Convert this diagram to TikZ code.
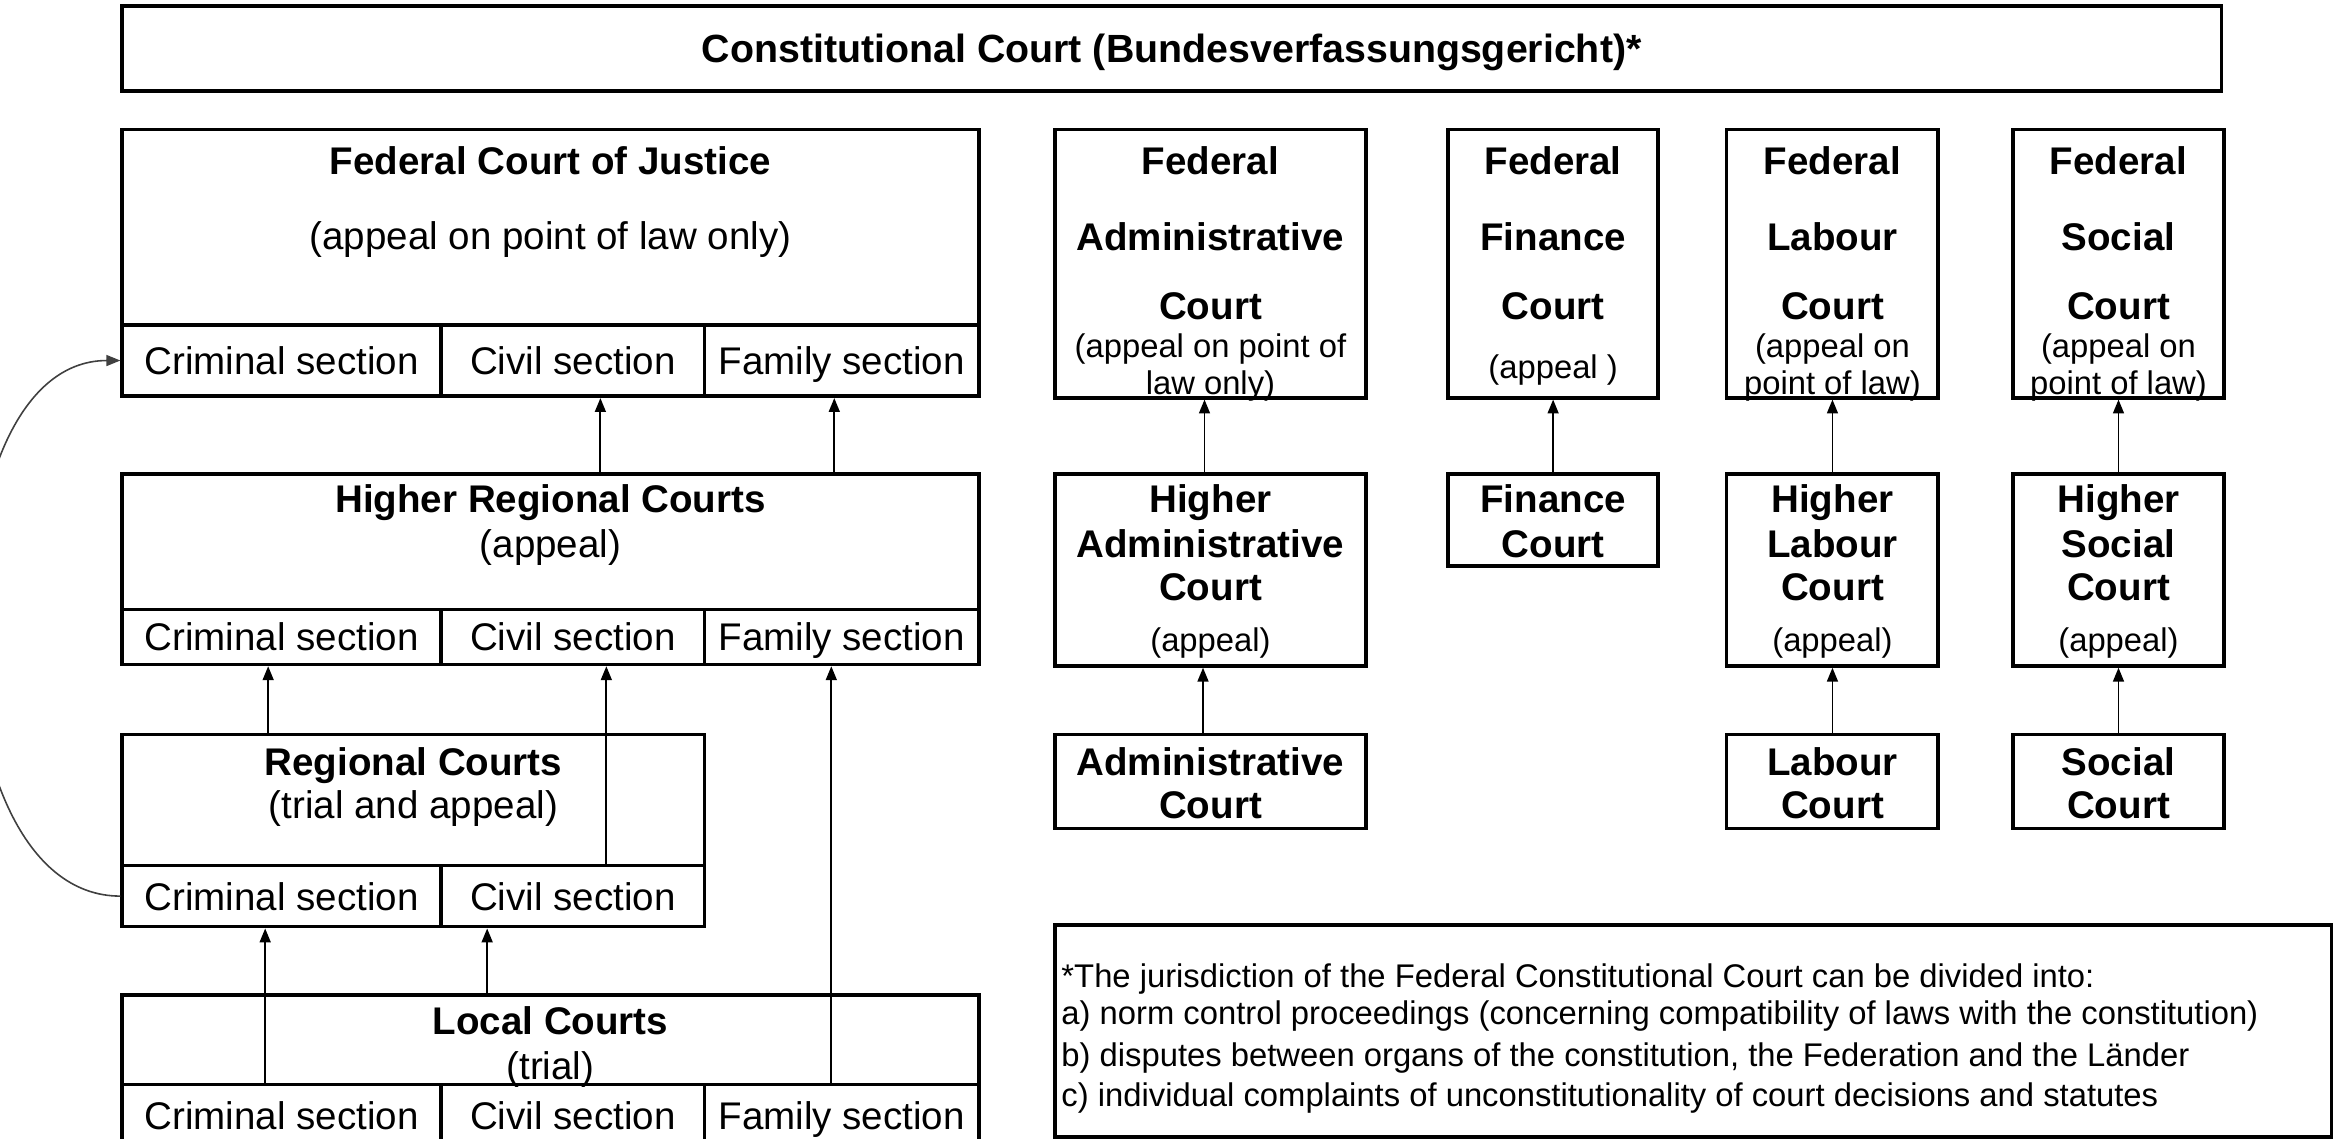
\documentclass[tikz,border=0pt]{standalone}
\usepackage{fontspec}
\setmainfont{Liberation Sans}
\usetikzlibrary{arrows.meta,calc}

\tikzset{every picture/.style={line width=0.75pt}}
\tikzset{
  box/.style 2 args={draw, line width=1.8pt, inner sep=0pt, minimum width=#1*0.75pt, minimum height=#2*0.75pt},
  hdtext/.style={font=\fontsize{19.4}{23}\selectfont\bfseries, inner sep=0pt, text height=14pt, text depth=0pt},
  bodytext/.style={font=\fontsize{19.4}{23}\selectfont, inner sep=0pt, text height=14pt, text depth=0pt},
  smalltext/.style={font=\fontsize{16.5}{20}\selectfont, inner sep=0pt, text height=12pt, text depth=0pt},
  uparrow/.style={-{Triangle[length=7pt,width=5.5pt]}, line width=0.9pt},
}

\begin{document}
\begin{tikzpicture}[x=0.75pt,y=0.75pt,yscale=-1,xscale=1]
  \useasboundingbox (0,0) rectangle (1568,764.5);

  %Shape: Rectangle
  \node[box={1409}{57}, hdtext, font=\fontsize{19.8}{23}\selectfont\bfseries] (bvg) at (786.5,32.5) {Constitutional Court (Bundesverfassungsgericht)*};

  %Shape: Rectangle
  \node[box={575}{131}] (fcj) at (369.5,152.5) {};
  \node[box={214}{48}, bodytext] (fcjCrim) at (189,242) {Criminal section};
  \node[box={177}{48}, bodytext] (fcjCiv) at (384.5,242) {Civil section};
  \node[box={184}{48}, bodytext] (fcjFam) at (565,242) {Family section};
  % Text Node
  \node[hdtext] (fcjName) at (369.5,108) {Federal Court of Justice};
  \node[bodytext] (fcjNote) at (369.5,158) {(appeal on point of law only)};

  %Shape: Rectangle
  \node[box={575}{91}] (hrc) at (369.5,363.5) {};
  \node[box={214}{37}, bodytext] (hrcCrim) at (189,427.5) {Criminal section};
  \node[box={177}{37}, bodytext] (hrcCiv) at (384.5,427.5) {Civil section};
  \node[box={184}{37}, bodytext] (hrcFam) at (565,427.5) {Family section};
  % Text Node
  \node[hdtext] (hrcName) at (369.5,335) {Higher Regional Courts};
  \node[bodytext] (hrcNote) at (369.5,365) {(appeal)};

  %Shape: Rectangle
  \node[box={391}{88}] (rc) at (277.5,537) {};
  \node[box={214}{41}, bodytext] (rcCrim) at (189,601.5) {Criminal section};
  \node[box={177}{41}, bodytext] (rcCiv) at (384.5,601.5) {Civil section};
  % Text Node
  \node[hdtext] (rcName) at (277.5,511) {Regional Courts};
  \node[bodytext] (rcNote) at (277.5,540) {(trial and appeal)};

  %Shape: Rectangle
  \node[box={575}{60}] (lc) at (369.5,698) {};
  \node[box={214}{41}, bodytext] (lcCrim) at (189,748.5) {Criminal section};
  \node[box={177}{41}, bodytext] (lcCiv) at (384.5,748.5) {Civil section};
  \node[box={184}{41}, bodytext] (lcFam) at (565,748.5) {Family section};
  % Text Node
  \node[hdtext] (lcName) at (369.5,685) {Local Courts};
  \node[bodytext] (lcNote) at (369.5,715) {(trial)};

  %Shape: Rectangle
  \node[box={209}{180}] (fadm) at (812.5,177) {};
  \node[box={141}{180}] (ffin) at (1042.5,177) {};
  \node[box={142}{180}] (flab) at (1230,177) {};
  \node[box={142}{180}] (fsoc) at (1422,177) {};
  % Text Node
  \node[hdtext] (fadm1) at (812.5,108) {Federal};
  \node[hdtext] (fadm2) at (812.5,159) {Administrative};
  \node[hdtext] (fadm3) at (812.5,205) {Court};
  \node[smalltext] (fadm4) at (812.5,232) {(appeal on point of};
  \node[smalltext] (fadm5) at (812.5,257) {law only)};
  \node[hdtext] (ffin1) at (1042.5,108) {Federal};
  \node[hdtext] (ffin2) at (1042.5,159) {Finance};
  \node[hdtext] (ffin3) at (1042.5,205) {Court};
  \node[smalltext] (ffin4) at (1042.5,246) {(appeal )};
  \node[hdtext] (flab1) at (1230,108) {Federal};
  \node[hdtext] (flab2) at (1230,159) {Labour};
  \node[hdtext] (flab3) at (1230,205) {Court};
  \node[smalltext] (flab4) at (1230,232) {(appeal on};
  \node[smalltext] (flab5) at (1230,257) {point of law)};
  \node[hdtext] (fsoc1) at (1422,108) {Federal};
  \node[hdtext] (fsoc2) at (1422,159) {Social};
  \node[hdtext] (fsoc3) at (1422,205) {Court};
  \node[smalltext] (fsoc4) at (1422,232) {(appeal on};
  \node[smalltext] (fsoc5) at (1422,257) {point of law)};

  %Shape: Rectangle
  \node[box={209}{129}] (hadm) at (812.5,382.5) {};
  \node[box={141}{62}] (fin) at (1042.5,349) {};
  \node[box={142}{129}] (hlab) at (1230,382.5) {};
  \node[box={142}{129}] (hsoc) at (1422,382.5) {};
  % Text Node
  \node[hdtext] (hadm1) at (812.5,335) {Higher};
  \node[hdtext] (hadm2) at (812.5,365) {Administrative};
  \node[hdtext] (hadm3) at (812.5,394) {Court};
  \node[smalltext] (hadm4) at (812.5,429) {(appeal)};
  \node[hdtext] (fin1) at (1042.5,335) {Finance};
  \node[hdtext] (fin2) at (1042.5,365) {Court};
  \node[hdtext] (hlab1) at (1230,335) {Higher};
  \node[hdtext] (hlab2) at (1230,365) {Labour};
  \node[hdtext] (hlab3) at (1230,394) {Court};
  \node[smalltext] (hlab4) at (1230,429) {(appeal)};
  \node[hdtext] (hsoc1) at (1422,335) {Higher};
  \node[hdtext] (hsoc2) at (1422,365) {Social};
  \node[hdtext] (hsoc3) at (1422,394) {Court};
  \node[smalltext] (hsoc4) at (1422,429) {(appeal)};

  %Shape: Rectangle
  \node[box={209}{63}] (adm) at (812.5,524.5) {};
  \node[box={142}{63}] (lab) at (1230,524.5) {};
  \node[box={142}{63}] (soc) at (1422,524.5) {};
  % Text Node
  \node[hdtext] (adm1) at (812.5,511) {Administrative};
  \node[hdtext] (adm2) at (812.5,540) {Court};
  \node[hdtext] (lab1) at (1230,511) {Labour};
  \node[hdtext] (lab2) at (1230,540) {Court};
  \node[hdtext] (soc1) at (1422,511) {Social};
  \node[hdtext] (soc2) at (1422,540) {Court};

  %Shape: Rectangle
  \node[box={857}{142}] (note) at (1136.5,692) {};
  % Text Node
  \node[smalltext, anchor=west] (note1) at (712,655) {*The jurisdiction of the Federal Constitutional Court can be divided into:};
  \node[smalltext, anchor=west] (note2) at (712,680) {a) norm control proceedings (concerning compatibility of laws with the constitution)};
  \node[smalltext, anchor=west] (note3) at (712,708) {b) disputes between organs of the constitution, the Federation and the Länder};
  \node[smalltext, anchor=west] (note4) at (712,735) {c) individual complaints of unconstitutionality of court decisions and statutes};

  %Straight Lines
  \draw[uparrow] ($(hrc.north -| fcjCiv.south)+(18.5,0)$) -- ($(fcjCiv.south)+(18.5,0)$);
  \draw[uparrow] ($(hrc.north -| fcjFam.south)+(-5,0)$) -- ($(fcjFam.south)+(-5,0)$);
  \draw[uparrow] ($(rc.north -| hrcCrim.south)+(-9,0)$) -- ($(hrcCrim.south)+(-9,0)$);
  \draw[uparrow] ($(rcCiv.north)+(22.5,0)$) -- ($(hrcCiv.south)+(22.5,0)$);
  \draw[uparrow] ($(lcCrim.north)+(-11,0)$) -- ($(rcCrim.south)+(-11,0)$);
  \draw[uparrow] ($(lc.north -| rcCiv.south)+(-57.5,0)$) -- ($(rcCiv.south)+(-57.5,0)$);
  \draw[uparrow] ($(lcFam.north)+(-7,0)$) -- ($(hrcFam.south)+(-7,0)$);

  \draw[uparrow] ($(hadm.north)+(-4,0)$) -- ($(fadm.south)+(-4,0)$);
  \draw[uparrow] ($(adm.north)+(-5,0)$) -- ($(hadm.south)+(-5,0)$);
  \draw[uparrow] (fin.north) -- (ffin.south);
  \draw[uparrow] (hlab.north) -- (flab.south);
  \draw[uparrow] (lab.north) -- (hlab.south);
  \draw[uparrow] (hsoc.north) -- (fsoc.south);
  \draw[uparrow] (soc.north) -- (hsoc.south);

  %Curve Lines
  \draw[uparrow, line width=0.8pt, black!75] (rcCrim.west) .. controls (-50,601.5) and (-50,242) .. (fcjCrim.west);

\end{tikzpicture}
\end{document}
